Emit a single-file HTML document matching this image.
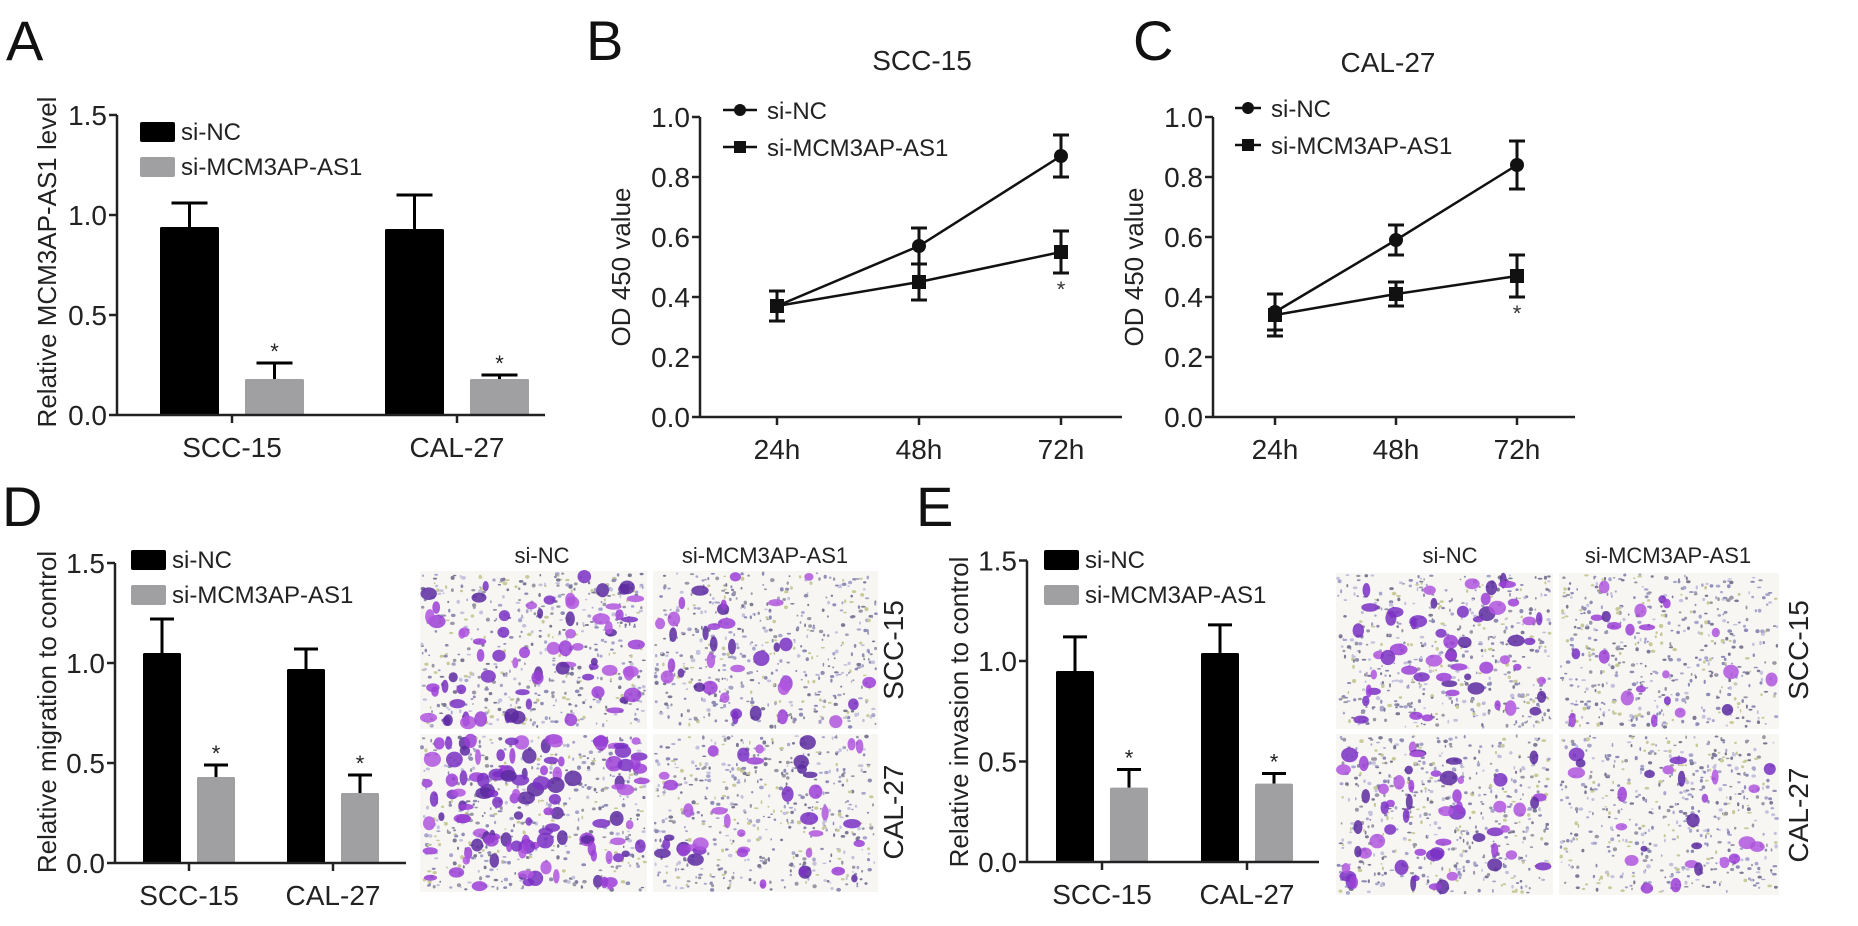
<!DOCTYPE html>
<html><head><meta charset="utf-8"><style>
html,body{margin:0;padding:0;background:#fff;}
svg{display:block;font-family:"Liberation Sans",Arial,sans-serif;}
</style></head><body>
<svg id="fig" width="1858" height="926" viewBox="0 0 1858 926" xmlns="http://www.w3.org/2000/svg">
<rect width="1858" height="926" fill="#fff"/>
<g font-size="56" fill="#111">
<text x="6" y="60">A</text>
<text x="586" y="60">B</text>
<text x="1133" y="60">C</text>
<text x="2" y="526">D</text>
<text x="916" y="526">E</text>
</g>
<text x="922" y="70" font-size="28" text-anchor="middle" fill="#222">SCC-15</text>
<text x="1388" y="72" font-size="28" text-anchor="middle" fill="#222">CAL-27</text>
<g id="charts"></g>
<g id="micro"></g>
</svg>
<script>
// ---------- data ----------
const barCategories = ["SCC-15", "CAL-27"];
const barSeries = ["si-NC", "si-MCM3AP-AS1"];
const barTicks = ["0.0", "0.5", "1.0", "1.5"];
const aNC = [0.94, 0.93];
const aNCerr = [0.12, 0.17];
const aKD = [0.18, 0.18];
const aKDerr = [0.08, 0.02];
const dNC = [1.05, 0.97];
const dNCerr = [0.17, 0.10];
const dKD = [0.43, 0.35];
const dKDerr = [0.06, 0.09];
const eNC = [0.95, 1.04];
const eNCerr = [0.17, 0.14];
const eKD = [0.37, 0.39];
const eKDerr = [0.09, 0.05];

const timeCategories = ["24h", "48h", "72h"];
const lineTicks = ["0.0", "0.2", "0.4", "0.6", "0.8", "1.0"];
const bNC = [0.37, 0.57, 0.87];
const bNCerr = [0.05, 0.06, 0.07];
const bKD = [0.37, 0.45, 0.55];
const bKDerr = [0.05, 0.06, 0.07];
const cNC = [0.35, 0.59, 0.84];
const cNCerr = [0.06, 0.05, 0.08];
const cKD = [0.34, 0.41, 0.47];
const cKDerr = [0.07, 0.04, 0.07];
const starB = [false, false, true];
const starC = [false, false, true];

// ---------- helpers ----------
const NS = "http://www.w3.org/2000/svg";
const root = document.getElementById("charts");
function mk(tag, attrs, parent) {
  const e = document.createElementNS(NS, tag);
  for (const k in attrs) e.setAttribute(k, attrs[k]);
  (parent || root).appendChild(e);
  return e;
}
function txt(s, attrs, parent) { const e = mk("text", attrs, parent); e.textContent = s; return e; }

function barChart(cfg) {
  const g = mk("g", {});
  
  
  const y = v => cfg.y0 - v * cfg.ppu;
  const groupX = i => cfg.g0 + i * cfg.gStep;
  [cfg.nc, cfg.kd].forEach((vals, s) => {
    const errs = s === 0 ? cfg.ncErr : cfg.kdErr;
    vals.forEach((v, i) => {
      const cx = groupX(i) + (s === 0 ? -cfg.off : cfg.off);
      const top = y(v + errs[i]);
      const el = mk("line", {x1: cx, x2: cx, y1: y(v), y2: top, stroke: "#000", "stroke-width": 3}, g);
      
      
      const cap = mk("line", {x1: cx - cfg.cap, x2: cx + cfg.cap, y1: top, y2: top, stroke: "#000", "stroke-width": 3}, g);
      
      
      const r = mk("rect", {x: cx - cfg.bw / 2, y: y(v), width: cfg.bw, height: v * cfg.ppu, fill: s === 0 ? "#000" : "#a0a0a2", rx: 1.5}, g);
      
      
      if (s === 1) {
        const st = txt("*", {x: cx, y: top - 4, "font-size": 22, "text-anchor": "middle", fill: "#222"}, g);
        
        
      }
    });
  });
  const ya = mk("line", {x1: cfg.ax, x2: cfg.ax, y1: y(1.5), y2: cfg.y0, stroke: "#222", "stroke-width": 2.5}, g);
  
  
  const xa = mk("line", {x1: cfg.ax, x2: cfg.xEnd, y1: cfg.y0, y2: cfg.y0, stroke: "#222", "stroke-width": 2.5}, g);
  
  
  barTicks.forEach(t => {
    const v = parseFloat(t);
    mk("line", {x1: cfg.ax - 8, x2: cfg.ax, y1: y(v), y2: y(v), stroke: "#222", "stroke-width": 2.5}, g);
    const tl = txt(t, {x: cfg.ax - 10, y: y(v) + 10, "font-size": 28, "text-anchor": "end", fill: "#222"}, g);
    
    
  });
  barCategories.forEach((c, i) => {
    mk("line", {x1: groupX(i), x2: groupX(i), y1: cfg.y0, y2: cfg.y0 + 8, stroke: "#222", "stroke-width": 2.5}, g);
    const cl = txt(c, {x: groupX(i), y: cfg.y0 + 42, "font-size": 28, "text-anchor": "middle", fill: "#222"}, g);
    
    
  });
  const yt = txt(cfg.title, {x: 0, y: 0, "font-size": 26, "text-anchor": "middle", fill: "#222", transform: `translate(${cfg.tx},${cfg.ty}) rotate(-90)`}, g);
  
  
  barSeries.forEach((s, k) => {
    const ly = cfg.ly + k * 35;
    const lb = mk("rect", {x: cfg.lx, y: ly, width: 35, height: 20, fill: k === 0 ? "#000" : "#a0a0a2", rx: 2}, g);
    
    
    const lt = txt(s, {x: cfg.lx + 41, y: ly + 18, "font-size": 24, fill: "#222"}, g);
    
    
  });
}

function lineChart(cfg) {
  const g = mk("g", {});
  
  
  const y = v => cfg.y0 - v * cfg.ppu;
  const x = i => cfg.x0 + i * cfg.step;
  const ya = mk("line", {x1: cfg.ax, x2: cfg.ax, y1: y(1), y2: cfg.y0, stroke: "#222", "stroke-width": 2.5}, g);
  
  
  const xa = mk("line", {x1: cfg.ax, x2: cfg.xEnd, y1: cfg.y0, y2: cfg.y0, stroke: "#222", "stroke-width": 2.5}, g);
  
  
  lineTicks.forEach(t => {
    const v = parseFloat(t);
    mk("line", {x1: cfg.ax - 8, x2: cfg.ax, y1: y(v), y2: y(v), stroke: "#222", "stroke-width": 2.5}, g);
    const tl = txt(t, {x: cfg.ax - 10, y: y(v) + 10, "font-size": 28, "text-anchor": "end", fill: "#222"}, g);
    
    
  });
  timeCategories.forEach((c, i) => {
    mk("line", {x1: x(i), x2: x(i), y1: cfg.y0, y2: cfg.y0 + 8, stroke: "#222", "stroke-width": 2.5}, g);
    const cl = txt(c, {x: x(i), y: cfg.y0 + 42, "font-size": 28, "text-anchor": "middle", fill: "#222"}, g);
    
    
  });
  const yt = txt("OD 450 value", {x: 0, y: 0, "font-size": 26, "text-anchor": "middle", fill: "#222", transform: `translate(${cfg.ax - 70},${y(0.5)}) rotate(-90)`}, g);
  
  
  [[cfg.nc, cfg.ncErr, "circle"], [cfg.kd, cfg.kdErr, "square"]].forEach(([vals, errs, shape], s) => {
    const pts = vals.map((v, i) => x(i) + "," + y(v)).join(" ");
    const pl = mk("polyline", {points: pts, fill: "none", stroke: "#111", "stroke-width": 2.5}, g);
    
    
    vals.forEach((v, i) => {
      const hi = y(v + errs[i]), lo = y(v - errs[i]);
      mk("line", {x1: x(i), x2: x(i), y1: hi, y2: lo, stroke: "#111", "stroke-width": 3}, g);
      mk("line", {x1: x(i) - 8, x2: x(i) + 8, y1: hi, y2: hi, stroke: "#111", "stroke-width": 3}, g);
      mk("line", {x1: x(i) - 8, x2: x(i) + 8, y1: lo, y2: lo, stroke: "#111", "stroke-width": 3}, g);
      let m;
      if (shape === "circle") m = mk("circle", {cx: x(i), cy: y(v), r: 7, fill: "#111"}, g);
      else m = mk("rect", {x: x(i) - 7, y: y(v) - 7, width: 14, height: 14, fill: "#111"}, g);
      
      
      if (s === 1 && cfg.star[i]) {
        const st = txt("*", {x: x(i), y: lo + 24, "font-size": 22, "text-anchor": "middle", fill: "#333"}, g);
        
        
      }
    });
  });
  barSeries.forEach((s, k) => {
    const ly = cfg.ly + k * 37;
    mk("line", {x1: cfg.lx, x2: cfg.lx + cfg.lw, y1: ly, y2: ly, stroke: "#111", "stroke-width": 2.5}, g);
    const cx = cfg.lx + cfg.lw / 2;
    if (k === 0) mk("circle", {cx: cx, cy: ly, r: 6, fill: "#111"}, g);
    else mk("rect", {x: cx - 6, y: ly - 6, width: 12, height: 12, fill: "#111"}, g);
    const lt = txt(s, {x: cfg.lx + cfg.lw + 10, y: ly + 9, "font-size": 24, fill: "#222"}, g);
    
    
  });
}

barChart({name: "chart-a", nc: aNC, ncErr: aNCerr, kd: aKD, kdErr: aKDerr, ax: 117, y0: 415, ppu: 200, xEnd: 545, g0: 232, gStep: 225, off: 42.5, bw: 59, cap: 18, title: "Relative MCM3AP-AS1 level", tx: 56, ty: 262, lx: 140, ly: 122});
barChart({name: "chart-d", nc: dNC, ncErr: dNCerr, kd: dKD, kdErr: dKDerr, ax: 115, y0: 863, ppu: 200, xEnd: 406, g0: 189, gStep: 144, off: 27, bw: 38, cap: 12, title: "Relative migration to control", tx: 56, ty: 712, lx: 131, ly: 550});
barChart({name: "chart-e", nc: eNC, ncErr: eNCerr, kd: eKD, kdErr: eKDerr, ax: 1027, y0: 862, ppu: 201, xEnd: 1319, g0: 1102, gStep: 145, off: 27, bw: 38, cap: 12, title: "Relative invasion to control", tx: 968, ty: 712, lx: 1044, ly: 550});
lineChart({name: "chart-b", nc: bNC, ncErr: bNCerr, kd: bKD, kdErr: bKDerr, star: starB, ax: 700, y0: 417, ppu: 300, xEnd: 1122, x0: 777, step: 142, lx: 723, lw: 34, ly: 110});
lineChart({name: "chart-c", nc: cNC, ncErr: cNCerr, kd: cKD, kdErr: cKDerr, star: starC, ax: 1213, y0: 417, ppu: 300, xEnd: 1575, x0: 1275, step: 121, lx: 1235, lw: 26, ly: 108});

// ---------- micrographs (decorative texture) ----------
const micro = document.getElementById("micro");
let seed = 12345;
function rnd() { seed = (seed * 1103515245 + 12345) % 2147483648; return seed / 2147483648; }
function tile(x, y, w, h, nPurple, name) {
  const g = mk("g", {}, micro);
  
  
  mk("rect", {x: x, y: y, width: w, height: h, fill: "#f7f6f3"}, g);
  const smallCols = ["#8f8cb5", "#a9a6cc", "#c9ca9a", "#7d7a95", "#c4c2dc", "#9a99a6"];
  for (let i = 0; i < 520; i++) {
    mk("ellipse", {cx: (x + 2 + rnd() * (w - 4)).toFixed(1), cy: (y + 2 + rnd() * (h - 4)).toFixed(1), rx: (0.8 + rnd() * 1.6).toFixed(1), ry: (0.8 + rnd() * 1.3).toFixed(1), fill: smallCols[Math.floor(rnd() * smallCols.length)]}, g);
  }
  const pCols = ["#9b3fd6", "#7a30c4", "#b055de", "#5c2aa0"];
  for (let i = 0; i < nPurple; i++) {
    mk("ellipse", {cx: (x + 5 + rnd() * (w - 10)).toFixed(1), cy: (y + 5 + rnd() * (h - 10)).toFixed(1), rx: (3 + rnd() * 6).toFixed(1), ry: (3 + rnd() * 5).toFixed(1), fill: pCols[Math.floor(rnd() * pCols.length)], opacity: 0.85}, g);
  }
}
tile(420, 571, 227, 158, 70, "micrograph-migration-scc15-si-nc");
tile(653, 571, 225, 158, 35, "micrograph-migration-scc15-si-mcm3ap-as1");
tile(420, 734, 227, 158, 120, "micrograph-migration-cal27-si-nc");
tile(653, 734, 225, 158, 40, "micrograph-migration-cal27-si-mcm3ap-as1");
tile(1336, 573, 217, 156, 55, "micrograph-invasion-scc15-si-nc");
tile(1559, 573, 220, 156, 22, "micrograph-invasion-scc15-si-mcm3ap-as1");
tile(1336, 734, 217, 161, 55, "micrograph-invasion-cal27-si-nc");
tile(1559, 734, 220, 161, 25, "micrograph-invasion-cal27-si-mcm3ap-as1");

const labs = [["si-NC", 542, 555], ["si-MCM3AP-AS1", 765, 555], ["si-NC", 1450, 555], ["si-MCM3AP-AS1", 1668, 555]];
labs.forEach(l => {
  const t = txt(l[0], {x: l[1], y: l[2] + 8, "font-size": 22, "text-anchor": "middle", fill: "#222"}, micro);
  
  
});
const rows = [["SCC-15", 903, 650], ["CAL-27", 903, 812], ["SCC-15", 1808, 650], ["CAL-27", 1808, 815]];
rows.forEach(r => {
  const t = txt(r[0], {x: 0, y: 0, "font-size": 28, "text-anchor": "middle", fill: "#222", transform: `translate(${r[1]},${r[2]}) rotate(-90)`}, micro);
  
  
});
</script>
</body></html>
